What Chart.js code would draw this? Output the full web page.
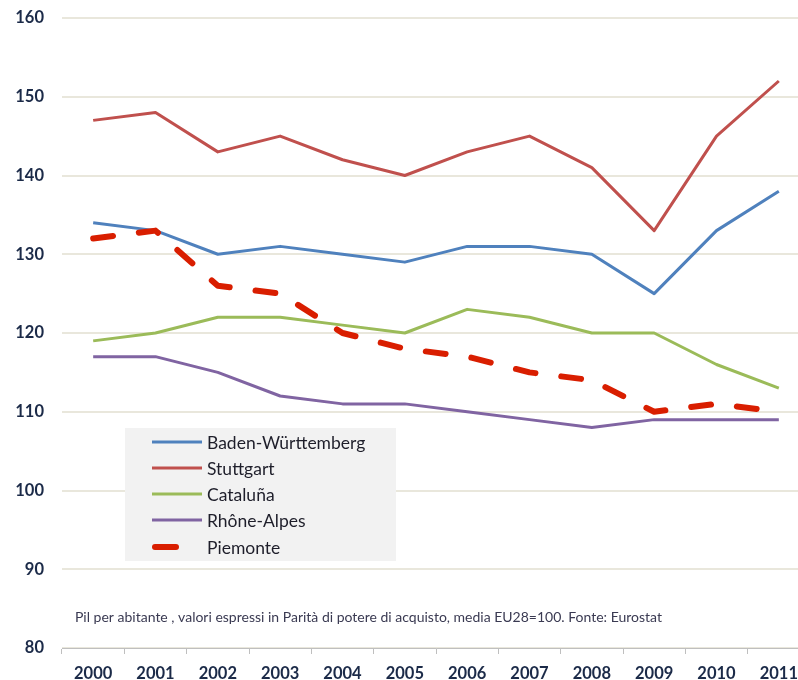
<!DOCTYPE html>
<html>
<head>
<meta charset="utf-8">
<script src="https://cdn.jsdelivr.net/npm/chart.js@4/dist/chart.umd.min.js"></script>
<style>
  html, body { margin: 0; padding: 0; background: #ffffff; overflow: hidden; width: 798px; height: 680px; }
  #wrap { position: relative; width: 812px; height: 680px; }
  canvas { display: block; }
</style>
</head>
<body>
<div id="wrap"><canvas id="c" width="812" height="680"></canvas></div>
<script>
const years = ['2000','2001','2002','2003','2004','2005','2006','2007','2008','2009','2010','2011'];
const badenWuerttemberg = [134,133,130,131,130,129,131,131,130,125,133,138];
const stuttgart        = [147,148,143,145,142,140,143,145,141,133,145,152];
const cataluna         = [119,120,122,122,121,120,123,122,120,120,116,113];
const rhoneAlpes       = [117,117,115,112,111,111,110,109,108,109,109,109];
const piemonte         = [132,133,126,125,120,118,117,115,114,110,111,110];
const seriesNames = ['Baden-Württemberg','Stuttgart','Cataluña','Rhône-Alpes','Piemonte'];
const yMin = 80, yMax = 160, yStep = 10;
const footnote = 'Pil per abitante , valori espressi in Parità di potere di acquisto, media EU28=100. Fonte: Eurostat';

const colors = ['#4f81bd','#c0504d','#9bbb59','#8064a2','#d91e00'];
const seriesData = [badenWuerttemberg, stuttgart, cataluna, rhoneAlpes, piemonte];

const datasets = seriesData.map((d, i) => ({
  label: seriesNames[i],
  data: d,
  borderColor: colors[i],
  backgroundColor: colors[i],
  borderWidth: i === 4 ? 6 : 3,
  borderDash: i === 4 ? [20, 26] : [],
  borderCapStyle: i === 4 ? 'round' : 'butt',
  borderJoinStyle: 'round',
  pointRadius: 0,
  tension: 0,
  fill: false,
  order: i === 4 ? -1 : i
}));

const overlay = {
  id: 'overlay',
  afterDraw(chart) {
    const ctx = chart.ctx;
    ctx.save();
    // footnote
    ctx.font = '14px Lato';
    ctx.fillStyle = '#3a3a52';
    ctx.textAlign = 'left';
    ctx.textBaseline = 'middle';
    ctx.fillText(footnote, 75, 617);
    // legend box
    const bx = 125, by = 428, bw = 271, bh = 133;
    ctx.fillStyle = '#f2f2f2';
    ctx.fillRect(bx, by, bw, bh);
    const rows = [442, 468, 494, 520, 547];
    ctx.font = '17.5px Lato';
    ctx.textBaseline = 'middle';
    datasets.forEach((ds, i) => {
      const y = rows[i];
      ctx.strokeStyle = ds.borderColor;
      ctx.setLineDash([]);
      if (i === 4) {
        ctx.lineWidth = 6; ctx.lineCap = 'round';
        ctx.beginPath(); ctx.moveTo(155, y); ctx.lineTo(176, y); ctx.stroke();
      } else {
        ctx.lineWidth = 3; ctx.lineCap = 'butt';
        ctx.beginPath(); ctx.moveTo(152, y); ctx.lineTo(202, y); ctx.stroke();
      }
      ctx.fillStyle = '#1e1e2a';
      ctx.fillText(ds.label, 207, y + 1);
    });
    ctx.restore();
  }
};

new Chart(document.getElementById('c'), {
  type: 'line',
  data: { labels: years, datasets },
  options: {
    responsive: false,
    animation: false,
    devicePixelRatio: 1,
    layout: { padding: { top: 18, right: 2, left: 0, bottom: 0 } },
    plugins: { legend: { display: false }, tooltip: { enabled: false } },
    scales: {
      x: {
        type: 'category',
        offset: true,
        grid: {
          offset: true,
          drawOnChartArea: false,
          drawTicks: true,
          tickLength: 6,
          color: '#bfbfbf',
          lineWidth: 1
        },
        border: { display: true, color: '#bfbfbf', width: 1 },
        ticks: {
          color: '#1b2a48',
          font: { family: 'Lato', size: 16.5, weight: 'bold' },
          padding: 10,
          maxRotation: 0,
          autoSkip: false
        },
        afterFit(scale) { scale.height = 32; }
      },
      y: {
        min: yMin, max: yMax,
        ticks: {
          stepSize: yStep,
          color: '#1b2a48',
          font: { family: 'Lato', size: 16.5, weight: 'bold' },
          padding: 18
        },
        grid: {
          color: '#e9e7dc',
          lineWidth: 2,
          drawTicks: false
        },
        border: { display: false },
        afterFit(scale) { scale.width = 62; scale.paddingTop = 0; scale.paddingBottom = 0; }
      }
    }
  },
  plugins: [overlay]
});
</script>
</body>
</html>
